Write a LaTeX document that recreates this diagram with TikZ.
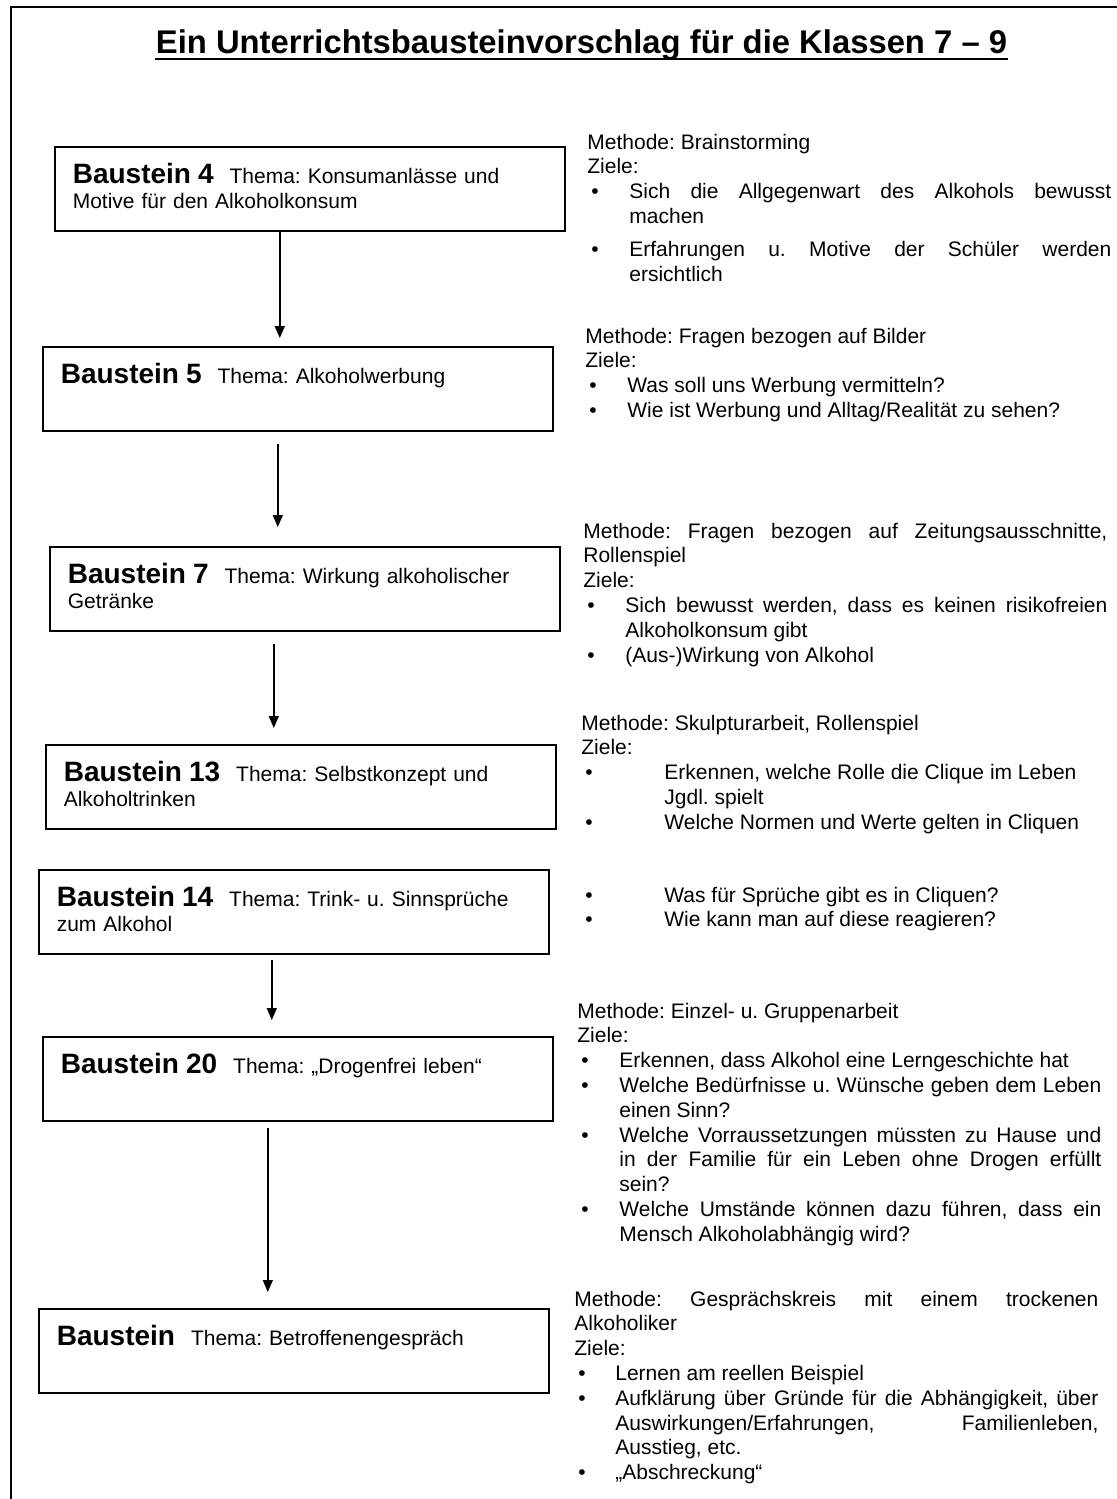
\documentclass[tikz,border=0pt]{standalone}
\usepackage{fontspec}
\setmainfont{Liberation Sans}
\usetikzlibrary{positioning,arrows.meta}
\frenchspacing
\newcommand{\bnr}[1]{{\fontsize{14}{12.5}\selectfont\bfseries #1}\hspace{8pt}}
\newcommand{\zpunkt}[2]{\hangindent=#1\hangafter=1\noindent\makebox[#1][l]{\hspace{2pt}\textbullet}#2\par}

\begin{document}
\begin{tikzpicture}[x=0.5pt,y=-0.5pt,bst/.style={draw,line width=0.8pt,rectangle,anchor=north west,
text width=237pt,align=left,inner xsep=9pt,inner ysep=0pt,text height=18.5pt,text depth=23.5pt,
font=\fontsize{10.5}{12.5}\selectfont},mz/.style={anchor=base west,text width=262pt,align=justify,
inner sep=0pt,font=\fontsize{10.5}{12.4}\selectfont},pf/.style={line width=0.7pt,
-{Triangle[length=6pt,width=5pt]}}]
\useasboundingbox (0,0) rectangle (1117,1499);
\draw[line width=1pt] (10.5,1499) -- (10.5,7) -- (1117,7);
\node[anchor=base,inner sep=0pt,font=\fontsize{16.4}{20}\selectfont\bfseries] (titel) at (581.5,54)
  {Ein Unterrichtsbausteinvorschlag für die Klassen 7 – 9};
\draw[line width=1.1pt] ([yshift=-2.6pt]titel.base west) -- ([yshift=-2.6pt]titel.base east);

\node[bst] (b4) at (54,146) {\bnr{Baustein 4}Thema: Konsumanlässe und\\Motive für den Alkoholkonsum};
\node[bst] (b5) at (42,346) {\bnr{Baustein 5}Thema: Alkoholwerbung};
\node[bst] (b7) at (49,546) {\bnr{Baustein 7}Thema: Wirkung alkoholischer\\Getränke};
\node[bst] (b13) at (45,744) {\bnr{Baustein 13}Thema: Selbstkonzept und\\Alkoholtrinken};
\node[bst] (b14) at (38,869) {\bnr{Baustein 14}Thema: Trink- u. Sinnsprüche\\zum Alkohol};
\node[bst] (b20) at (42,1036) {\bnr{Baustein 20}Thema: „Drogenfrei leben“};
\node[bst] (bb) at (38,1308) {\bnr{Baustein}Thema: Betroffenengespräch};

\coordinate (p4) at ([xshift=-15pt]b4.south);
\coordinate (p5) at ([xshift=-10pt]b5.south);
\coordinate (p7) at ([xshift=-15.5pt]b7.south);
\coordinate (p14) at ([xshift=-11pt]b14.south);
\coordinate (p20) at ([xshift=-15pt]b20.south);
\draw[pf,shorten >=4pt] (p4) -- (p4 |- b5.north);
\draw[pf,shorten <=6pt,shorten >=9.5pt] (p5) -- (p5 |- b7.north);
\draw[pf,shorten <=6pt,shorten >=8pt] (p7) -- (p7 |- b13.north);
\draw[pf,shorten <=2.5pt,shorten >=8pt] (p14) -- (p14 |- b20.north);
\draw[pf,shorten <=3pt,shorten >=8pt] (p20) -- (p20 |- bb.north);

\node[mz] (m4) at (587,149) {Methode: Brainstorming\par Ziele:\par
  \zpunkt{21pt}{Sich die Allgegenwart des Alkohols bewusst\linebreak machen}\vspace{4pt}
  \zpunkt{21pt}{Erfahrungen u. Motive der Schüler werden\linebreak ersichtlich}};
\node[mz] (m5) at (585,343) {Methode: Fragen bezogen auf Bilder\par Ziele:\par
  \zpunkt{21pt}{Was soll uns Werbung vermitteln?}
  \zpunkt{21pt}{Wie ist Werbung und Alltag/Realität zu sehen?}};
\node[mz] (m7) at (583,538) {Methode: Fragen bezogen auf Zeitungsausschnitte,\linebreak Rollenspiel\par Ziele:\par
  \zpunkt{21pt}{Sich bewusst werden, dass es keinen risikofreien\linebreak Alkoholkonsum gibt}
  \zpunkt{21pt}{(Aus-)Wirkung von Alkohol}};
\node[mz] (m13) at (581,730) {Methode: Skulpturarbeit, Rollenspiel\par Ziele:\par
  \zpunkt{41.5pt}{Erkennen, welche Rolle die Clique im Leben\hfil\break Jgdl. spielt}
  \zpunkt{41.5pt}{Welche Normen und Werte gelten in Cliquen}};
\node[mz] (m14) at (581,902) {\zpunkt{41.5pt}{Was für Sprüche gibt es in Cliquen?}
  \zpunkt{41.5pt}{Wie kann man auf diese reagieren?}};
\node[mz] (m20) at (577,1018) {Methode: Einzel- u. Gruppenarbeit\par Ziele:\par
  \zpunkt{21pt}{Erkennen, dass Alkohol eine Lerngeschichte hat}
  \zpunkt{21pt}{Welche Bedürfnisse u. Wünsche geben dem Leben\linebreak einen Sinn?}
  \zpunkt{21pt}{Welche Vorraussetzungen müssten zu Hause und\linebreak in der Familie für ein Leben ohne Drogen erfüllt\linebreak sein?}
  \zpunkt{21pt}{Welche Umstände können dazu führen, dass ein\linebreak Mensch Alkoholabhängig wird?}};
\node[mz] (mb) at (574,1306) {Methode: Gesprächskreis mit einem trockenen\linebreak Alkoholiker\par Ziele:\par
  \zpunkt{20.5pt}{Lernen am reellen Beispiel}
  \zpunkt{20.5pt}{Aufklärung über Gründe für die Abhängigkeit, über\linebreak Auswirkungen/Erfahrungen, Familienleben,\linebreak Ausstieg, etc.}
  \zpunkt{20.5pt}{„Abschreckung“}};
\end{tikzpicture}
\end{document}
